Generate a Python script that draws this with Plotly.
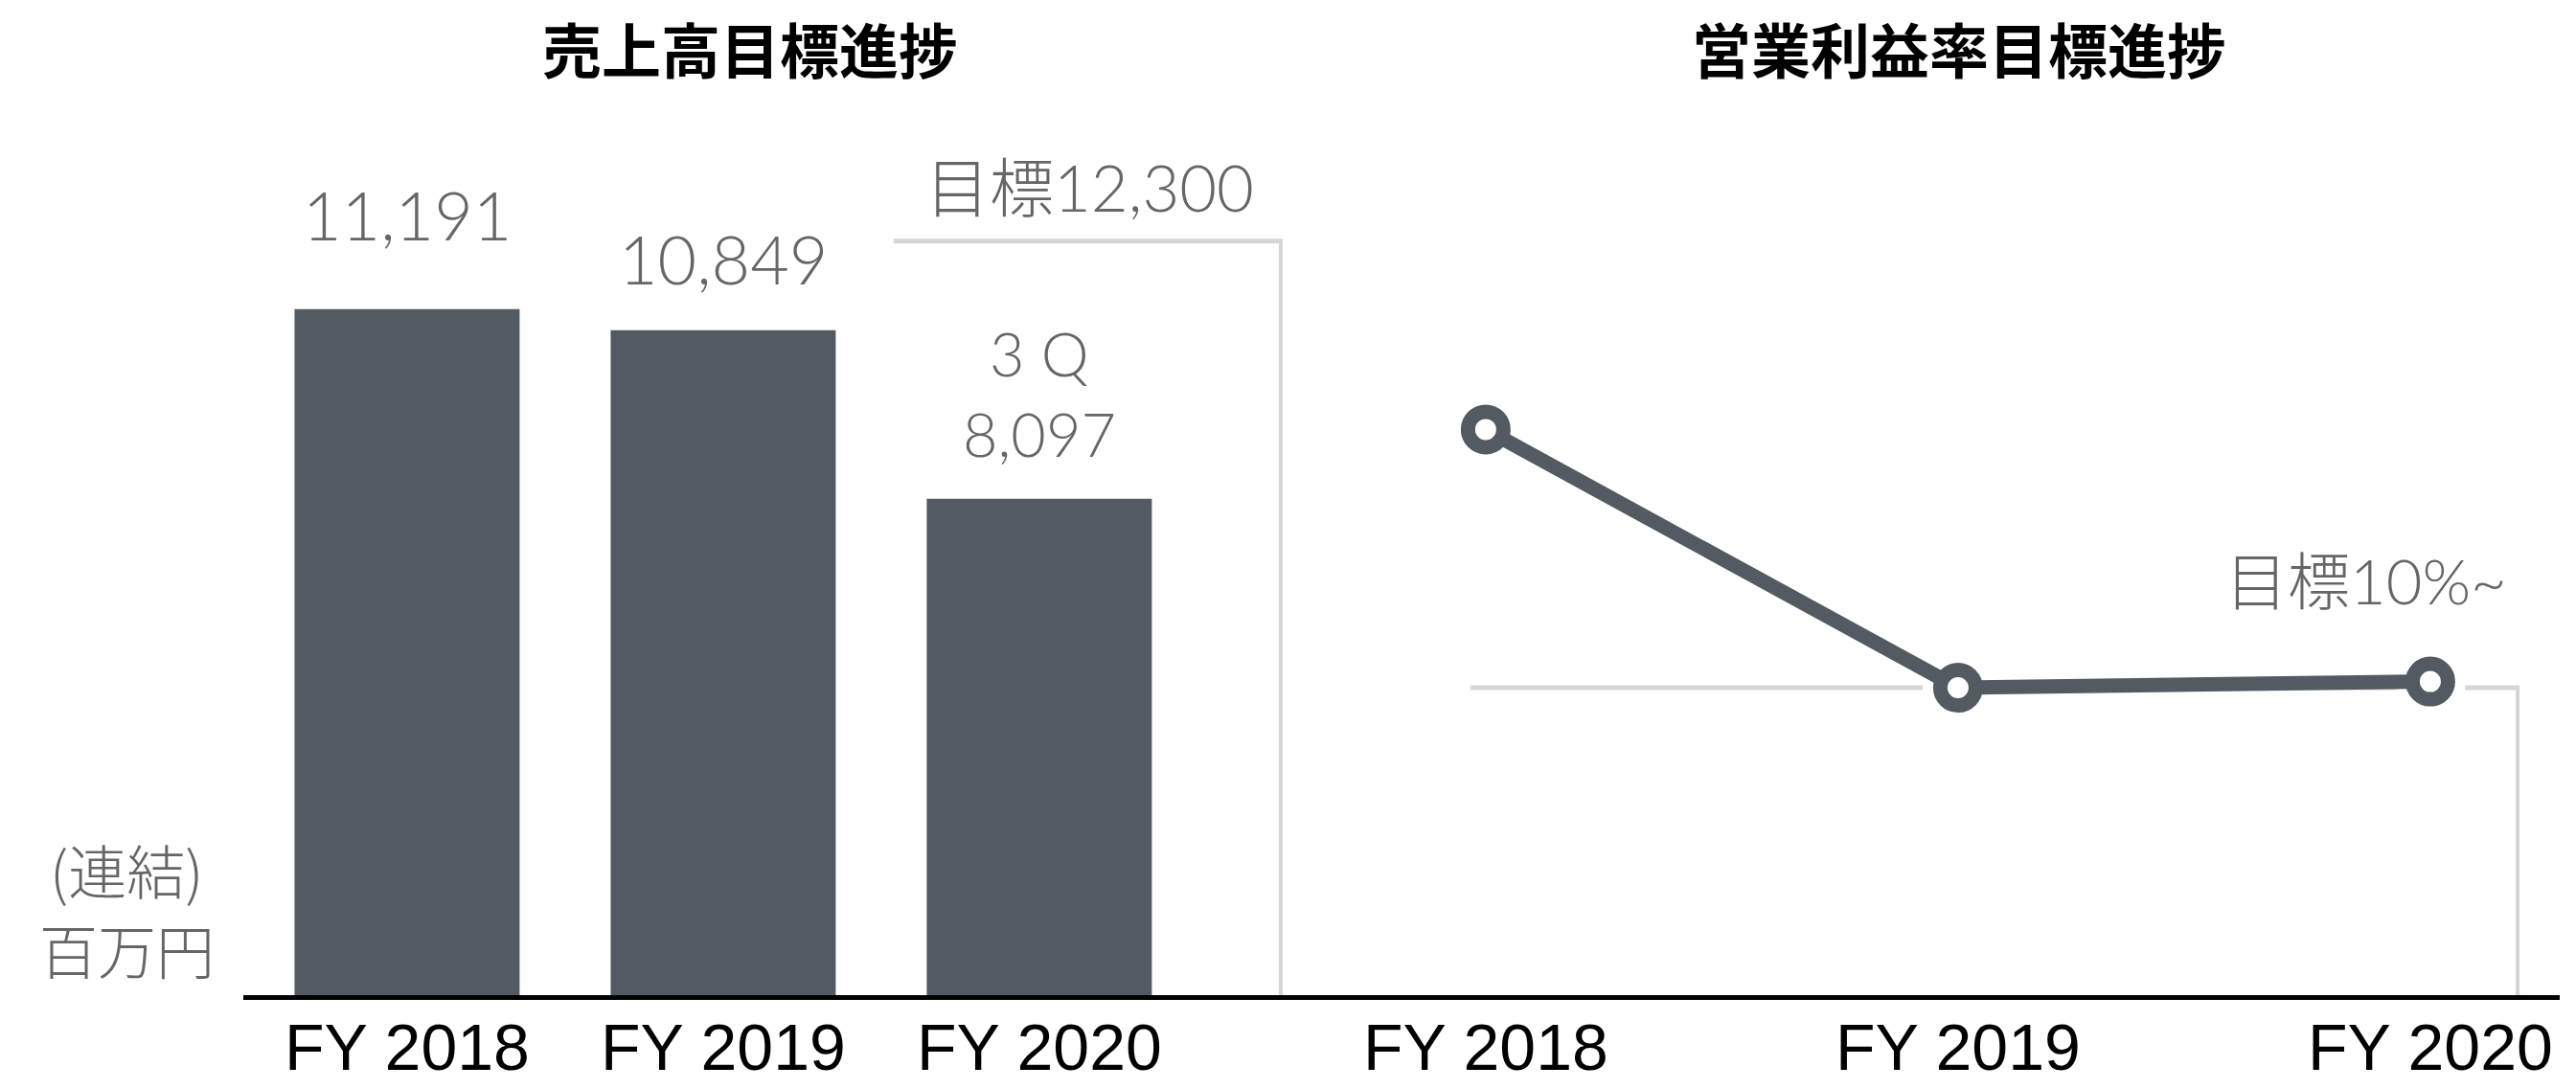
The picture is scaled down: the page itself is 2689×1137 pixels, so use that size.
import plotly.graph_objects as go

# ---------------- data ----------------
years = ["FY 2018", "FY 2019", "FY 2020"]
sales = [11191, 10849, 8097]
sales_labels = ["11,191", "10,849", "8,097"]
sales_target = 12300
sales_target_label = "目標12,300"
q_label = "3 Q"
margin_pct = [18.4, 10.0, 10.2]
margin_target = 10
margin_target_label = "目標10%~"
title_sales = "売上高目標進捗"
title_margin = "営業利益率目標進捗"
unit_labels = ["(連結)", "百万円"]

# ---------------- style ----------------
W, H = 2689, 1137
DARK = "#535a61"
GRAY_TXT = "#666666"
GRAY_LINE = "#d6d6d6"
NUM_FONT = "Lato, 'Noto Sans CJK JP', sans-serif"
CJK_FONT = "'Noto Sans CJK JP', sans-serif"
TICK_FONT = "'Liberation Sans', Arial, sans-serif"


def px(x):
    return x / W


def py(y):
    return 1 - y / H


fig = go.Figure()

fig.add_trace(go.Bar(
    x=years, y=sales, width=0.712, marker=dict(color=DARK, line=dict(width=0)),
    xaxis="x", yaxis="y", hoverinfo="skip"))

# white halo behind markers
fig.add_trace(go.Scatter(
    x=years, y=margin_pct, mode="markers",
    marker=dict(size=74, color="white", line=dict(width=0)),
    xaxis="x2", yaxis="y2", hoverinfo="skip"))

fig.add_trace(go.Scatter(
    x=years, y=margin_pct, mode="lines+markers",
    line=dict(color=DARK, width=15),
    marker=dict(size=37, color="white", line=dict(color=DARK, width=15)),
    xaxis="x2", yaxis="y2", hoverinfo="skip"))

# target guide lines
tgt_x0, tgt_x1 = 1.539, 2.764
fig.add_shape(type="line", xref="x", yref="y", x0=tgt_x0, x1=tgt_x1 + 0.006,
              y0=sales_target, y1=sales_target, layer="below",
              line=dict(color=GRAY_LINE, width=5))
fig.add_shape(type="line", xref="x", yref="y", x0=tgt_x1, x1=tgt_x1,
              y0=0, y1=sales_target, layer="below",
              line=dict(color=GRAY_LINE, width=4))

m_x0, m_x1 = -0.032, 2.185
fig.add_shape(type="line", xref="x2", yref="y2", x0=m_x0, x1=m_x1 + 0.004,
              y0=margin_target, y1=margin_target, layer="below",
              line=dict(color=GRAY_LINE, width=5))
fig.add_shape(type="line", xref="x2", yref="y2", x0=m_x1, x1=m_x1,
              y0=0, y1=margin_target, layer="below",
              line=dict(color=GRAY_LINE, width=4))

ann = []
shifts = [99, 75, 68]
sizes = [70, 70, 63]
for yr, v, lab, s, fs in zip(years, sales, sales_labels, shifts, sizes):
    ann.append(dict(x=yr, y=v, xref="x", yref="y", text=lab, showarrow=False,
                    yshift=s, yanchor="middle",
                    font=dict(family=NUM_FONT, size=fs, color=GRAY_TXT, weight=300)))
ann.append(dict(x=years[2], y=sales[2], xref="x", yref="y", text=q_label,
                showarrow=False, yshift=152, yanchor="middle",
                font=dict(family=NUM_FONT, size=63, color=GRAY_TXT, weight=300)))
ann.append(dict(x=2.16, y=sales_target, xref="x", yref="y", text=sales_target_label,
                showarrow=False, yshift=57, yanchor="middle",
                font=dict(family=NUM_FONT, size=67, color=GRAY_TXT, weight=300)))
ann.append(dict(x=1.864, y=margin_target, xref="x2", yref="y2", text=margin_target_label,
                showarrow=False, yshift=112, yanchor="middle",
                font=dict(family=NUM_FONT, size=65, color=GRAY_TXT, weight=300)))
ann.append(dict(x=px(783), y=py(50), xref="paper", yref="paper", text=title_sales,
                showarrow=False, xanchor="center", yanchor="middle",
                font=dict(family=CJK_FONT, size=62, color="black", weight=700)))
ann.append(dict(x=px(2045), y=py(50), xref="paper", yref="paper", text=title_margin,
                showarrow=False, xanchor="center", yanchor="middle",
                font=dict(family=CJK_FONT, size=62, color="black", weight=700)))
for lab, yy in zip(unit_labels, [907, 990]):
    ann.append(dict(x=px(132), y=py(yy), xref="paper", yref="paper", text=lab,
                    showarrow=False, xanchor="center", yanchor="middle",
                    font=dict(family=CJK_FONT, size=61, color=GRAY_TXT, weight=300)))

base_y = 1039
common_x = dict(type="category", categoryorder="array", categoryarray=years,
                showline=True, linecolor="black", linewidth=5, ticks="",
                showgrid=False, zeroline=False, fixedrange=True, automargin=False,
                ticklabelstandoff=-9,
                tickfont=dict(family=TICK_FONT, size=68, color="black"))

fig.update_layout(
    width=W, height=H, margin=dict(l=0, r=0, t=0, b=0, autoexpand=False),
    paper_bgcolor="white", plot_bgcolor="white", showlegend=False,
    annotations=ann,
    xaxis=dict(domain=[px(254), px(1400)], range=[-0.518, 2.955], anchor="y", **common_x),
    yaxis=dict(domain=[py(base_y), 1], range=[0, 16234], visible=False, fixedrange=True),
    xaxis2=dict(domain=[px(1400), px(2672)], range=[-0.306, 2.274], anchor="y2", **common_x),
    yaxis2=dict(domain=[py(base_y), 1], range=[0, 32.37], visible=False, fixedrange=True),
)

fig.write_html("out.html", config={"displayModeBar": False},
               post_script="document.body.style.margin='0';")
